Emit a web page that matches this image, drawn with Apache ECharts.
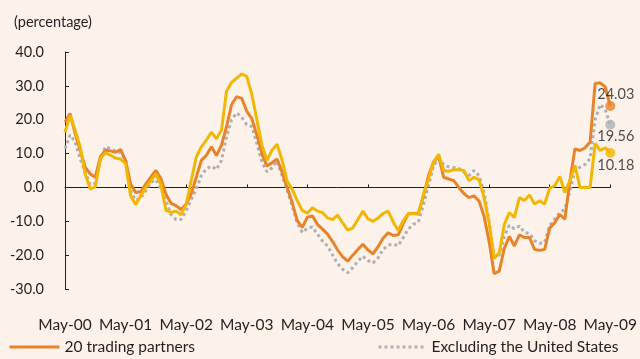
<!DOCTYPE html>
<html>
<head>
<meta charset="utf-8">
<script src="https://cdn.jsdelivr.net/npm/echarts@6/dist/echarts.min.js"></script>
<style>
html,body{margin:0;padding:0;background:#FDF2E9;}
#c{width:640px;height:359px;}
</style>
</head>
<body>
<div id="c"></div>
<script>
var monthNames = ['May','Jun','Jul','Aug','Sep','Oct','Nov','Dec','Jan','Feb','Mar','Apr'];
var startYears = ['00','01','02','03','04','05','06','07','08','09'];

var tradingPartners = [19.3,21.8,16,11,6,4,3,9,11,10.8,10.4,11.2,
8,1,-1.5,-1.3,1,3,5,2.6,-2,-4.7,-5.4,-6.5,
-4.9,-1.9,3,8,9.5,12,9.4,12.5,18,24.5,26.8,26.3,
22.5,20.3,15.5,10,6.3,7.3,8.4,4.5,0,-4.5,-9.8,-11.8,
-8.8,-8.4,-10.9,-12.3,-13.8,-16,-18.5,-20.5,-21.8,-20,-18.3,-16.8,
-18.5,-19.6,-17.5,-15,-13.4,-14.2,-14,-10.6,-7.8,-7.7,-7.6,-2.5,
3.5,7.5,9.3,3,2.5,2,0,-1.8,-3,-2.5,-4,-8.5,
-16,-25.5,-24.7,-18,-14.5,-17.3,-14,-14.8,-14.8,-18.3,-18.6,-18.3,
-12,-10.4,-8,-9.4,2,11.4,10.9,11.7,13.4,30.7,30.9,29.7,
24.03];

var thirdSeries = [16.3,21.3,17,12,4,-0.5,0.2,8.4,10.3,9.5,8.7,8.4,
7,-2.5,-5,-2.5,0,2,4,0.8,-6.8,-7.4,-7,-8.1,
-5,2,9,12,14,16.3,14.4,17,28.5,31,32.3,33.5,
32.8,27.5,20,12.5,8,11,12.8,8,1.8,-0.5,-3.9,-6.8,
-7.6,-6,-7,-7.4,-9,-9.5,-8.2,-10.5,-12.6,-12,-9.5,-7,
-9.3,-10,-9,-7.7,-7,-10.2,-12.7,-9.8,-7.7,-7.8,-7.9,-2,
2.5,7.5,9.8,5,4.8,5.2,5.2,5,2,3,2.3,-3,
-10.5,-21,-19.3,-11,-7.4,-8.9,-3,-3.9,-2.2,-4.9,-3.9,-4.9,
-0.2,0.5,3.2,-1.5,2,6.5,0,0,0,13,10.9,11.7,
10.18];

var exclUS = [11.4,15.5,13.5,8.5,4.5,0.8,1.2,8,12,11.5,10.7,10.3,
8,-1,-3.8,-3.2,-1,1.5,2.3,-0.5,-4,-8,-9.5,-9.5,
-7,-3.5,-0.5,3.5,5.5,6.3,5.3,8,15,20,22,20.7,
18.5,18,13,7.5,4.6,5.8,7.8,3.5,-0.8,-5.5,-10.5,-13.3,
-12,-11.7,-13.8,-15.8,-17.3,-20,-22.5,-24.2,-25.2,-23.7,-21.8,-20.3,
-21.6,-22.3,-20.8,-18.3,-17,-16.8,-17.2,-14.8,-12.3,-10.9,-10.2,-5,
0.5,6.5,8.5,6.8,6.1,5.9,5.6,4.5,3.5,5,3.5,-1.5,
-10,-20.5,-20,-14.5,-11.2,-12.2,-11.4,-13.3,-13.6,-15.7,-16.5,-16.3,
-11.2,-9.4,-7.4,-6.5,-1,5,6,6.8,8.5,20,24.5,23,
18.5];

var endLabels = ['24.03','19.56','10.18'];
var yTicks = {min:-30, max:40, interval:10};

var categories = [];
for (var y = 0; y < startYears.length; y++) {
  for (var m = 0; m < 12; m++) {
    var yr = (m < 8) ? startYears[y] : ('0' + (parseInt(startYears[y],10)+1)).slice(-2);
    categories.push(monthNames[m] + '-' + yr);
    if (y === startYears.length - 1) break;
  }
}

var FONT = 'Lato';
var TXT = '#231F20';
var C_OR = '#E8832A', C_YE = '#F2B705', C_GR = '#AEB0B3';
var last = categories.length - 1;

function endPoint(arr, color, label, pos) {
  return {
    type: 'scatter', xAxisIndex: 0, symbol: 'circle', symbolSize: 10, z: 5,
    itemStyle: {color: color},
    data: [[categories[last], arr[arr.length-1]]],
    label: {show: true, formatter: label, position: pos, align: 'left', verticalAlign: 'middle',
      color: TXT, fontFamily: FONT, fontSize: 14.5},
    silent: true
  };
}

var legendCommon = {
  top: 339, itemHeight: 14, itemGap: 5, selectedMode: false, padding: 0,
  itemStyle: {color: 'rgba(0,0,0,0)', borderWidth: 0, opacity: 0},
  textStyle: {fontFamily: FONT, fontSize: 15.5, color: TXT}
};

var chart = echarts.init(document.getElementById('c'), null, {renderer: 'canvas'});
chart.setOption({
  backgroundColor: '#FDF2E9',
  animation: false,
  textStyle: {fontFamily: FONT, color: TXT},
  title: {text: '(percentage)', left: 9, top: 10,
    textStyle: {fontFamily: FONT, fontSize: 14.5, fontWeight: 'normal', color: TXT}},
  grid: {left: 65, right: 27, top: 52, bottom: 70, containLabel: false},
  legend: [
    Object.assign({}, legendCommon, {data: ['20 trading partners'], left: 8, itemWidth: 50,
      lineStyle: {width: 3, color: C_OR}}),
    Object.assign({}, legendCommon, {data: ['Excluding the United States'], left: 377, itemWidth: 48,
      lineStyle: {width: 3, color: C_GR, type: [3, 3]}})
  ],
  xAxis: [
    {type: 'category', data: categories, boundaryGap: false, position: 'bottom',
      axisLine: {show: false, onZero: false}, axisTick: {show: false},
      axisLabel: {interval: 11, margin: 28, fontFamily: FONT, fontSize: 15.5, color: TXT}},
    {type: 'category', data: categories, boundaryGap: false, position: 'bottom',
      axisLine: {show: true, onZero: true, lineStyle: {color: TXT, width: 1}},
      axisTick: {show: true, inside: true, length: 3, interval: 11, lineStyle: {color: TXT}},
      axisLabel: {show: false}}
  ],
  yAxis: {type: 'value', min: yTicks.min, max: yTicks.max, interval: yTicks.interval,
    splitLine: {show: false},
    axisLine: {show: true, lineStyle: {color: TXT, width: 1}},
    axisTick: {show: true, inside: true, length: 4, lineStyle: {color: TXT}},
    axisLabel: {margin: 21, fontFamily: FONT, fontSize: 14.5, color: TXT,
      formatter: function(v){ return v.toFixed(1); }}},
  series: [
    {name: 'Excluding the United States', type: 'line', data: exclUS, symbol: 'none',
      lineStyle: {color: C_GR, width: 3, type: [3, 3]}, itemStyle: {color: C_GR}, z: 2},
    {name: '20 trading partners', type: 'line', data: tradingPartners, symbol: 'none',
      lineStyle: {color: C_OR, width: 3}, itemStyle: {color: C_OR}, z: 3},
    {name: 'Other', type: 'line', data: thirdSeries, symbol: 'none',
      lineStyle: {color: C_YE, width: 3}, itemStyle: {color: C_YE}, z: 4},
    endPoint(tradingPartners, C_OR, endLabels[0], [-8, -7]),
    endPoint(exclUS, C_GR, endLabels[1], [-8, 17]),
    endPoint(thirdSeries, C_YE, endLabels[2], [-8, 17])
  ]
});
</script>
</body>
</html>
